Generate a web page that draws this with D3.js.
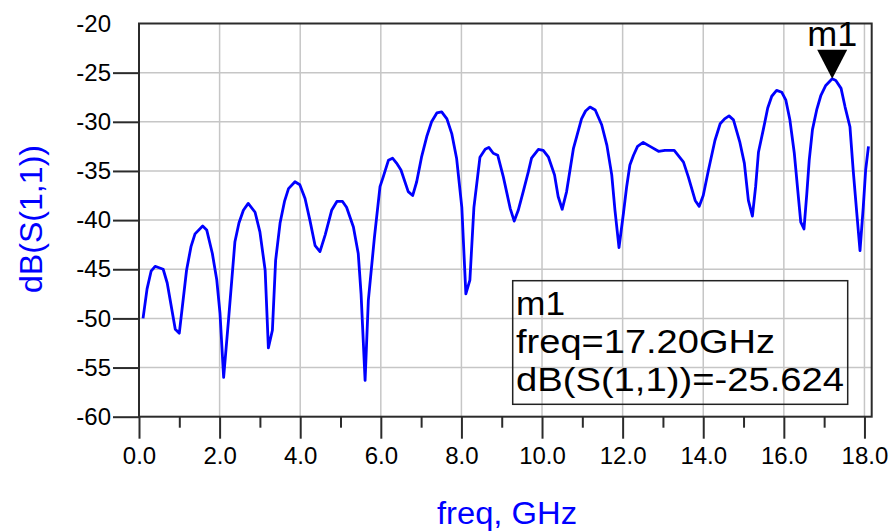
<!DOCTYPE html>
<html>
<head>
<meta charset="utf-8">
<script src="https://cdn.jsdelivr.net/npm/d3@7"></script>
<style>
  html, body { margin: 0; padding: 0; background: #fff; }
  svg { display: block; font-family: "Liberation Sans", Arial, sans-serif; }
</style>
</head>
<body>
<svg id="chart" width="893" height="531"></svg>
<script>
// Return loss sweep: frequency (GHz) and dB(S(1,1))
const freqGHz = [
  0.10, 0.20, 0.30, 0.40, 0.60, 0.70, 0.90, 1.00, 1.18, 1.29,
  1.39, 1.58, 1.68, 1.82, 1.93, 2.01, 2.10, 2.22, 2.38, 2.48,
  2.59, 2.71, 2.88, 3.00, 3.13, 3.21, 3.31, 3.39, 3.50, 3.61,
  3.71, 3.87, 3.99, 4.12, 4.24, 4.37, 4.49, 4.62, 4.78, 4.91,
  5.05, 5.15, 5.32, 5.44, 5.51, 5.61, 5.69, 5.84, 5.98, 6.06,
  6.19, 6.29, 6.39, 6.50, 6.68, 6.79, 6.89, 7.01, 7.14, 7.26,
  7.39, 7.51, 7.64, 7.76, 7.88, 8.01, 8.11, 8.21, 8.31, 8.46,
  8.59, 8.68, 8.79, 8.90, 9.04, 9.21, 9.31, 9.41, 9.54, 9.66,
  9.74, 9.91, 10.03, 10.16, 10.31, 10.40, 10.50, 10.61, 10.78, 10.86,
  10.98, 11.08, 11.19, 11.32, 11.48, 11.61, 11.73, 11.81, 11.91, 12.02,
  12.10, 12.18, 12.27, 12.37, 12.51, 12.68, 12.89, 13.05, 13.28, 13.51,
  13.63, 13.80, 13.90, 14.00, 14.13, 14.29, 14.42, 14.53, 14.64, 14.75,
  14.91, 15.02, 15.12, 15.22, 15.30, 15.37, 15.49, 15.60, 15.70, 15.82,
  15.95, 16.05, 16.15, 16.26, 16.36, 16.42, 16.50, 16.57, 16.63, 16.71,
  16.82, 16.92, 17.04, 17.20, 17.29, 17.42, 17.52, 17.64, 17.72, 17.81,
  17.89, 17.97, 18.03, 18.10
];
const s11dB = [
  -50.0, -47.0, -45.2, -44.7, -45.0, -46.4, -51.1, -51.5, -45.1, -42.7,
  -41.4, -40.6, -41.0, -43.4, -46.1, -49.5, -56.0, -50.2, -42.2, -40.3,
  -39.0, -38.3, -39.2, -41.2, -45.1, -53.0, -51.2, -44.1, -40.3, -38.1,
  -36.8, -36.1, -36.4, -37.8, -40.0, -42.6, -43.2, -41.5, -39.0, -38.1,
  -38.1, -38.7, -40.7, -43.4, -47.5, -56.3, -48.2, -41.8, -36.6, -35.6,
  -33.9, -33.7, -34.2, -34.9, -37.1, -37.5, -36.1, -33.6, -31.5, -30.0,
  -29.1, -29.0, -29.7, -31.2, -33.7, -38.7, -47.5, -46.1, -38.7, -33.6,
  -32.8, -32.6, -33.2, -33.4, -35.6, -38.8, -40.1, -39.0, -37.0, -35.1,
  -33.7, -32.8, -32.9, -33.6, -35.4, -37.6, -38.9, -37.1, -32.7, -31.5,
  -29.7, -28.9, -28.5, -28.8, -30.3, -32.4, -35.4, -39.0, -42.8, -39.3,
  -36.6, -34.4, -33.4, -32.5, -32.1, -32.5, -33.0, -32.9, -32.9, -34.1,
  -35.6, -38.0, -38.6, -37.5, -34.9, -31.9, -30.2, -29.7, -29.4, -29.8,
  -32.1, -34.2, -38.0, -39.6, -36.6, -33.1, -30.8, -28.6, -27.4, -26.8,
  -27.0, -27.8, -29.8, -33.2, -37.6, -40.2, -40.9, -37.3, -33.9, -30.8,
  -28.7, -27.3, -26.3, -25.624, -25.8, -26.6, -28.5, -30.5, -34.9, -39.3,
  -43.1, -38.7, -34.9, -32.5
];

// Axis ticks
const xMajorTicks = [0, 2, 4, 6, 8, 10, 12, 14, 16, 18];
const xMinorTicks = [1, 3, 5, 7, 9, 11, 13, 15, 17];
const yTicks = [-60, -55, -50, -45, -40, -35, -30, -25, -20];

// Marker m1
const markerName = "m1";
const markerFreq = 17.20;
const markerValue = -25.624;

const xTitle = "freq, GHz";
const yTitle = "dB(S(1,1))";

const svg = d3.select("#chart");
const plotL = 139, plotR = 871.7, plotT = 23.5, plotB = 416.7;

const x = d3.scaleLinear().domain([0, 18.18]).range([plotL, plotR]);
const y = d3.scaleLinear().domain([-60, -20]).range([plotB, plotT]);

const frameColor = "#2b2b2b";
const gridColor = "#c6c6c6";

// Grid
const grid = svg.append("g");
grid.selectAll("line.vg").data(xMajorTicks.filter(d => d > 0)).join("line")
  .attr("x1", d => x(d)).attr("x2", d => x(d))
  .attr("y1", plotT).attr("y2", plotB)
  .attr("stroke", gridColor).attr("stroke-width", 1.5);
grid.selectAll("line.hg").data(yTicks.filter(d => d > -60 && d < -20)).join("line")
  .attr("x1", plotL).attr("x2", plotR)
  .attr("y1", d => y(d)).attr("y2", d => y(d))
  .attr("stroke", gridColor).attr("stroke-width", 1.5);

// Y axis
const yAxis = svg.append("g")
  .attr("transform", `translate(${plotL},0)`)
  .call(d3.axisLeft(y).tickValues(yTicks).tickSize(26).tickPadding(2).tickFormat(d => String(d)));
yAxis.select(".domain").remove();
yAxis.selectAll(".tick line").attr("stroke", frameColor).attr("stroke-width", 2)
  .filter(d => d === -20).remove();
yAxis.selectAll(".tick text")
  .attr("fill", "#000").attr("font-size", 24)
  .attr("font-family", "Liberation Sans, Arial, sans-serif");

// X axis (major + minor ticks)
const xAxis = svg.append("g")
  .attr("transform", `translate(0,${plotB})`)
  .call(d3.axisBottom(x).tickValues(xMajorTicks).tickSize(22).tickPadding(8).tickFormat(d3.format(".1f")));
xAxis.select(".domain").remove();
xAxis.selectAll(".tick line").attr("stroke", frameColor).attr("stroke-width", 2);
xAxis.selectAll(".tick text")
  .attr("fill", "#000").attr("font-size", 24)
  .attr("font-family", "Liberation Sans, Arial, sans-serif");
const xMinor = svg.append("g")
  .attr("transform", `translate(0,${plotB})`)
  .call(d3.axisBottom(x).tickValues(xMinorTicks).tickSize(11).tickFormat(""));
xMinor.select(".domain").remove();
xMinor.selectAll(".tick line").attr("stroke", frameColor).attr("stroke-width", 2);

// Plot frame
svg.append("rect")
  .attr("x", plotL).attr("y", plotT)
  .attr("width", plotR - plotL).attr("height", plotB - plotT)
  .attr("fill", "none").attr("stroke", frameColor).attr("stroke-width", 2);

// Trace
const pts = freqGHz.map((f, i) => [f, s11dB[i]]);
svg.append("path")
  .datum(pts)
  .attr("fill", "none")
  .attr("stroke", "#0000ff")
  .attr("stroke-width", 2.8)
  .attr("stroke-linejoin", "round")
  .attr("d", d3.line().x(d => x(d[0])).y(d => y(d[1])));

// Marker triangle and name
const mx = x(markerFreq), my = y(markerValue);
svg.append("path")
  .attr("d", `M${mx},${my} L${mx - 15},${my - 29} L${mx + 15},${my - 29} Z`)
  .attr("fill", "#000");
svg.append("text")
  .attr("x", mx).attr("y", my - 33)
  .attr("text-anchor", "middle")
  .attr("font-size", 35)
  .attr("textLength", 50)
  .attr("lengthAdjust", "spacingAndGlyphs")
  .attr("fill", "#000")
  .text(markerName);

// Marker readout box
svg.append("rect")
  .attr("x", 512.7).attr("y", 280.7)
  .attr("width", 335).attr("height", 123.6)
  .attr("fill", "none").attr("stroke", "#222").attr("stroke-width", 1.5);
const readout = [
  markerName,
  `freq=${markerFreq.toFixed(2)}GHz`,
  `dB(S(1,1))=${markerValue.toFixed(3)}`
];
const readoutWidths = [49, 259, 328];
svg.append("g").selectAll("text").data(readout).join("text")
  .attr("x", 516)
  .attr("y", (d, i) => 315 + i * 37.8)
  .attr("font-size", 34)
  .attr("textLength", (d, i) => readoutWidths[i])
  .attr("lengthAdjust", "spacingAndGlyphs")
  .attr("fill", "#000")
  .text(d => d);

// Axis titles
svg.append("text")
  .attr("x", 507).attr("y", 524)
  .attr("text-anchor", "middle")
  .attr("font-size", 31)
  .attr("textLength", 140)
  .attr("lengthAdjust", "spacingAndGlyphs")
  .attr("fill", "#0000ff")
  .text(xTitle);
svg.append("text")
  .attr("transform", "translate(42,219) rotate(-90)")
  .attr("text-anchor", "middle")
  .attr("font-size", 31)
  .attr("textLength", 148)
  .attr("lengthAdjust", "spacingAndGlyphs")
  .attr("fill", "#0000ff")
  .text(yTitle);
</script>
</body>
</html>
